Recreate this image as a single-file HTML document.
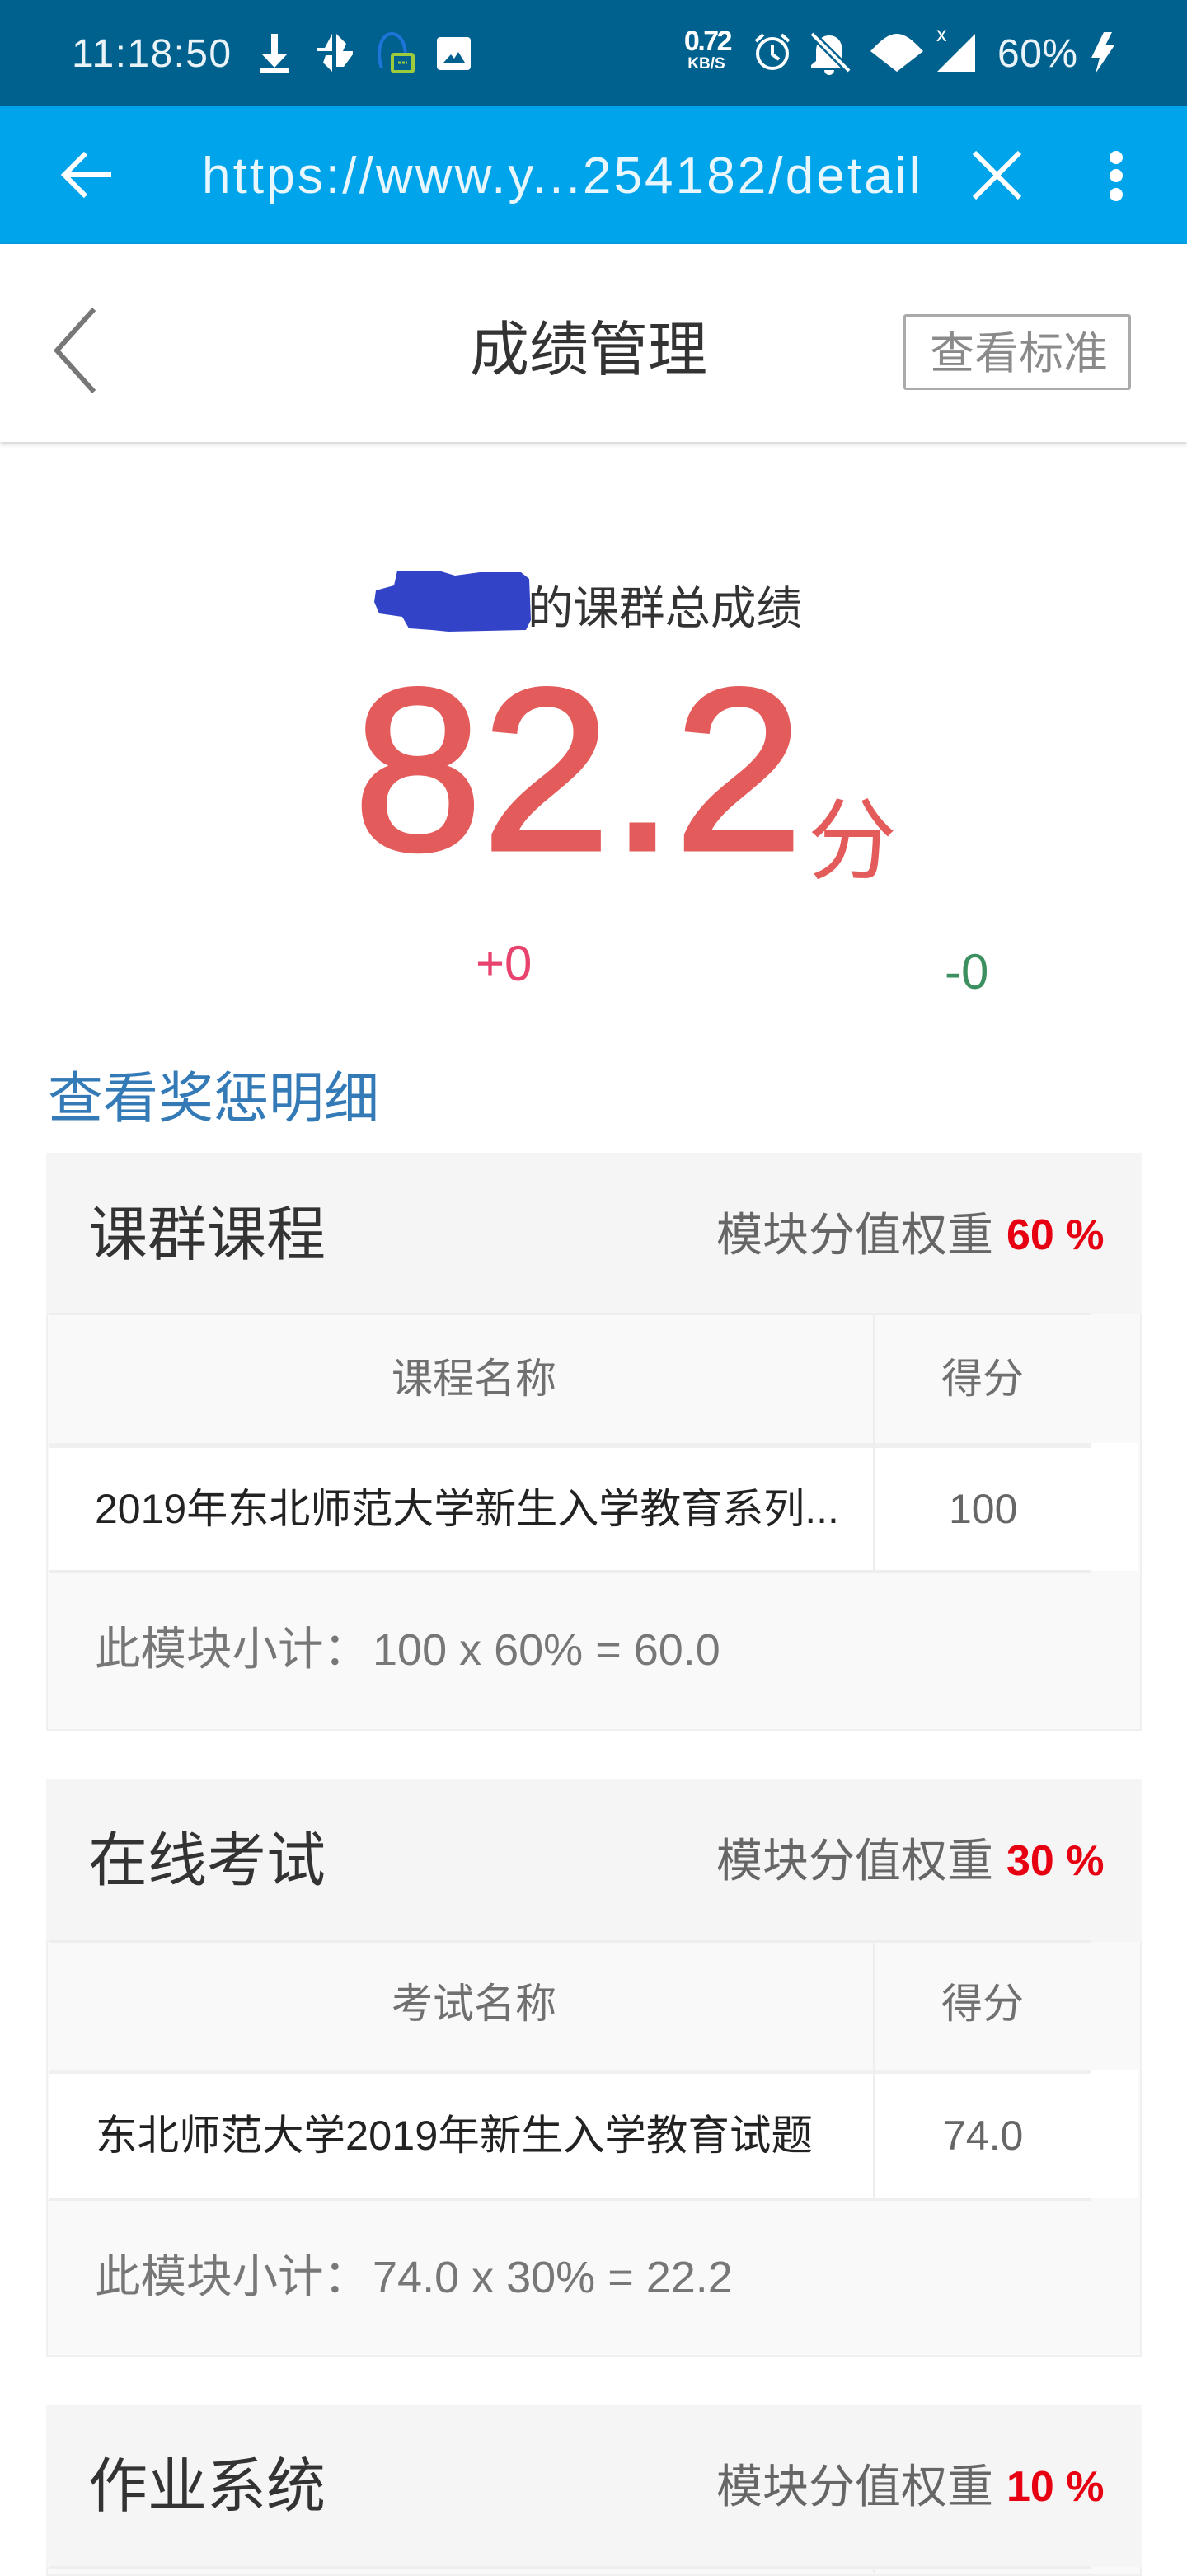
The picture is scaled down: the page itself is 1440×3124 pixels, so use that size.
<!DOCTYPE html>
<html lang="zh-CN">
<head>
<meta charset="utf-8">
<title>成绩管理</title>
<style>
html,body{margin:0;padding:0;background:#fff}
body{position:relative;width:1440px;height:3120px;overflow:hidden;font-family:"Liberation Sans","Noto Sans CJK SC",sans-serif}
.a{position:absolute;white-space:nowrap}
.box{position:absolute}
svg{position:absolute;overflow:visible}
</style>
</head>
<body>

<div class="box" style="left:0;top:0;width:1440px;height:128px;background:#00618f"></div>
<div class="a" style="left:87px;top:36px;line-height:60px;font-size:48px;color:#eaf4f8;letter-spacing:1.4px">11:18:50</div>
<svg style="left:0;top:0" width="1440" height="128">
  <g fill="#fff" stroke="none">
    <path d="M329 41h8v24h12l-16 17-16-17h12z M315 82h36v6h-36z"/>
    <path d="M403 41l0 21h-19l0 -4h10z M408 41l12 12-4 9h-8z M428 62v4l-11 15h-9v-19z M403 67v20l-11-11 3-9z"/>
    <path d="M534 45h33a4 4 0 0 1 4 4v32a4 4 0 0 1-4 4h-33a4 4 0 0 1-4-4v-32a4 4 0 0 1 4-4zM538 76h26l-8-13-5 8-4-5z" fill-rule="evenodd"/>
    <path d="M1056 62c10-10 20-21 32-21s22 11 32 21l-32 25z M1056 64l0 0"/>
    <path d="M1137 87l46-46v46z"/>
    <path d="M1339 39l-15 31h10l-5 19 23-34h-11l8-16z"/>
    <path d="M1006 43c-11 0-16 9-16 20v11l-6 5v3h44v-3l-6-5v-11c0-11-5-20-16-20z M1000 85h12a6 6 0 0 1-12 0z"/>
  </g>
  <path d="M985 41l45 45" stroke="#00618f" stroke-width="9"/>
  <path d="M985 41l45 45" stroke="#fff" stroke-width="4"/>
  <g fill="none">
    <path d="M463 82c-6-14-3-41 12-41s19 22 16 36" stroke="#1e74d8" stroke-width="4"/>
    <rect x="476" y="66" width="25" height="21" rx="2" fill="#00618f" stroke="#9ccc3c" stroke-width="4"/>
    <path d="M483 76h11" stroke="#9ccc3c" stroke-width="3" stroke-dasharray="3 2"/>
  </g>
  <g fill="none" stroke="#fff" stroke-width="4">
    <circle cx="937" cy="65" r="18"/>
    <path d="M937 54v12l8 6"/>
    <path d="M917 50l9-8M957 50l-9-8"/>
  </g>
</svg>
<div class="a" style="left:826px;top:33px;width:64px;text-align:center;line-height:34px;font-size:34px;font-weight:700;color:#fff;letter-spacing:-2.5px">0.72</div>
<div class="a" style="left:826px;top:68px;width:62px;text-align:center;line-height:20px;font-size:19px;font-weight:700;color:#fff">KB/S</div>
<div class="a" style="left:1136px;top:30px;line-height:24px;font-size:25px;color:#fff">x</div>
<div class="a" style="left:1210px;top:36px;line-height:60px;font-size:48px;color:#eaf4f8;letter-spacing:.5px">60%</div>

<div class="box" style="left:0;top:128px;width:1440px;height:168px;background:#00a4ea"></div>
<svg style="left:0;top:128px" width="1440" height="168">
  <path d="M135 84H80M104 58L78 84l26 26" fill="none" stroke="#fff" stroke-width="6"/>
  <path d="M1182 57l55 55M1237 57l-55 55" fill="none" stroke="#fff" stroke-width="6"/>
  <g fill="#fff">
    <circle cx="1354" cy="63" r="8"/><circle cx="1354" cy="85" r="8"/><circle cx="1354" cy="108" r="8"/>
  </g>
</svg>
<div class="a" style="left:245px;top:174px;line-height:80px;font-size:62px;color:#e8f6fd;letter-spacing:3.1px">https://www.y...254182/detail</div>

<div class="box" style="left:0;top:296px;width:1440px;height:240px;background:#fff;box-shadow:0 2px 6px rgba(0,0,0,.22)"></div>
<svg style="left:0;top:296px" width="200" height="240">
  <path d="M114 79L69 129l45 50" fill="none" stroke="#777" stroke-width="6"/>
</svg>
<div class="a" style="left:570px;top:375px;line-height:100px;font-size:72px;color:#333">成绩管理</div>
<div class="box" style="left:1096px;top:381px;width:270px;height:86px;border:3px solid #aaa;border-radius:3px"></div>
<div class="a" style="left:1128px;top:379px;line-height:100px;font-size:54px;color:#8a8a8a">查看标准</div>

<svg style="left:0;top:0" width="1440" height="800">
  <path d="M482 692h50l20 6 30-4h50l10 8 2 50-6 12-94 2-20-2-28-2-8-14-28-4-6-14 2-14 22-6z" fill="#3343c7"/>
</svg>
<div class="a" style="left:640px;top:693px;line-height:90px;font-size:55.5px;color:#333">的课群总成绩</div>
<div class="a" style="left:429px;top:774px;line-height:320px;font-size:280px;color:#e35b5a;font-weight:400;-webkit-text-stroke:5px #e35b5a">82.2</div>
<div class="a" style="left:980px;top:960px;line-height:120px;font-size:108px;color:#e35b5a">分</div>
<div class="a" style="left:577px;top:1129px;line-height:80px;font-size:60px;color:#e8436f">+0</div>
<div class="a" style="left:1146px;top:1139px;line-height:80px;font-size:60px;color:#3c8f5f">-0</div>
<div class="a" style="left:58px;top:1283px;line-height:100px;font-size:67px;color:#337ab7">查看奖惩明细</div>

<!-- card 1 -->
<div class="box" style="left:56px;top:1398px;width:1325px;height:699px;background:#f9f9f9;border:2px solid #f0f0f0;border-top:0"></div>
<div class="box" style="left:56px;top:1398px;width:1329px;height:196px;background:#f5f5f5"></div>
<div class="a" style="left:107px;top:1448px;line-height:100px;font-size:72px;color:#333">课群课程</div>
<div class="a" style="left:869px;top:1448px;line-height:100px;font-size:56px;color:#666">模块分值权重</div>
<div class="a" style="left:1221px;top:1448px;line-height:100px;font-size:52px;font-weight:700;color:#e60012">60 %</div>
<div class="box" style="left:60px;top:1592px;width:1263px;height:3px;background:#eee"></div>
<div class="a" style="left:475px;top:1622px;line-height:100px;font-size:50px;color:#707070">课程名称</div>
<div class="a" style="left:1142px;top:1622px;line-height:100px;font-size:50px;color:#707070">得分</div>
<div class="box" style="left:60px;top:1750px;width:1320px;height:155px;background:#fff"></div>
<div class="box" style="left:60px;top:1750px;width:1263px;height:6px;background:#f0f0f0"></div>
<div class="box" style="left:60px;top:1904px;width:1263px;height:4px;background:#eee"></div>
<div class="box" style="left:1059px;top:1594px;width:2px;height:312px;background:#eee"></div>
<div class="a" style="left:115px;top:1780px;line-height:100px;font-size:50px;color:#222">2019年东北师范大学新生入学教育系列...</div>
<div class="a" style="left:1151px;top:1780px;line-height:100px;font-size:50px;color:#666">100</div>
<div class="a" style="left:115px;top:1950px;line-height:100px;font-size:55.5px;color:#777">此模块小计：<span style="font-size:54px;margin-left:4px">100 x 60% = 60.0</span></div>

<!-- card 2 -->
<div class="box" style="left:56px;top:2157px;width:1325px;height:699px;background:#f9f9f9;border:2px solid #f0f0f0;border-top:0"></div>
<div class="box" style="left:56px;top:2157px;width:1329px;height:198px;background:#f5f5f5"></div>
<div class="a" style="left:107px;top:2207px;line-height:100px;font-size:72px;color:#333">在线考试</div>
<div class="a" style="left:869px;top:2207px;line-height:100px;font-size:56px;color:#666">模块分值权重</div>
<div class="a" style="left:1221px;top:2207px;line-height:100px;font-size:52px;font-weight:700;color:#e60012">30 %</div>
<div class="box" style="left:60px;top:2353px;width:1263px;height:3px;background:#eee"></div>
<div class="a" style="left:475px;top:2380px;line-height:100px;font-size:50px;color:#707070">考试名称</div>
<div class="a" style="left:1142px;top:2380px;line-height:100px;font-size:50px;color:#707070">得分</div>
<div class="box" style="left:60px;top:2510px;width:1320px;height:155px;background:#fff"></div>
<div class="box" style="left:60px;top:2510px;width:1263px;height:5px;background:#f0f0f0"></div>
<div class="box" style="left:60px;top:2665px;width:1263px;height:4px;background:#eee"></div>
<div class="box" style="left:1059px;top:2355px;width:2px;height:312px;background:#eee"></div>
<div class="a" style="left:116px;top:2540px;line-height:100px;font-size:50.5px;color:#222">东北师范大学2019年新生入学教育试题</div>
<div class="a" style="left:1144px;top:2540px;line-height:100px;font-size:50px;color:#666">74.0</div>
<div class="a" style="left:115px;top:2711px;line-height:100px;font-size:55.5px;color:#777">此模块小计：<span style="font-size:54px;margin-left:4px">74.0 x 30% = 22.2</span></div>

<!-- card 3 -->
<div class="box" style="left:56px;top:2917px;width:1325px;height:205px;background:#f9f9f9;border:2px solid #f0f0f0;border-top:0"></div>
<div class="box" style="left:56px;top:2917px;width:1329px;height:196px;background:#f5f5f5"></div>
<div class="a" style="left:107px;top:2966px;line-height:100px;font-size:72px;color:#333">作业系统</div>
<div class="a" style="left:869px;top:2966px;line-height:100px;font-size:56px;color:#666">模块分值权重</div>
<div class="a" style="left:1221px;top:2966px;line-height:100px;font-size:52px;font-weight:700;color:#e60012">10 %</div>
<div class="box" style="left:60px;top:3112px;width:1263px;height:3px;background:#eee"></div>
<div class="box" style="left:1059px;top:3113px;width:2px;height:7px;background:#eee"></div>

</body>
</html>
